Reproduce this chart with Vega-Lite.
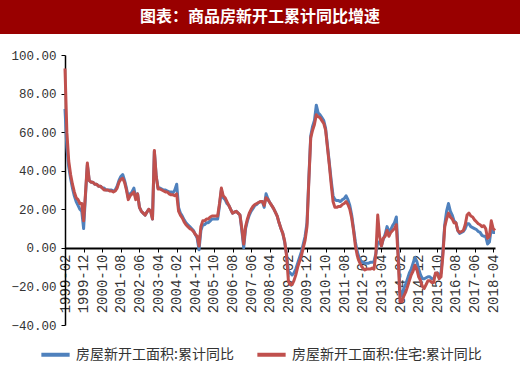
{
  "$schema": "https://vega.github.io/schema/vega-lite/v6.json",
  "padding": 0,
  "background": "white",
  "spacing": 15,
  "config": {"view": {"stroke": null}, "legend": {"layout": {"bottom": {"anchor": "middle"}}}},
  "vconcat": [
    {
      "width": 520,
      "height": 34,
      "view": {"fill": "#990000", "stroke": null},
      "data": {"values": [{"t": "图表：商品房新开工累计同比增速"}]},
      "mark": {"type": "text", "color": "white", "font": "Noto Sans CJK SC", "fontWeight": "bold", "fontSize": 16, "align": "center", "baseline": "middle"},
      "encoding": {"text": {"field": "t", "type": "nominal"}}
    },
    {
      "width": 520,
      "height": 270,
      "data": {"values": [
        {"d":"1999-02","a":72,"b":93},{"d":"1999-03","a":52,"b":60},{"d":"1999-04","a":42,"b":45},{"d":"1999-05","a":36,"b":38},{"d":"1999-06","a":31,"b":33},{"d":"1999-07","a":27,"b":29},{"d":"1999-08","a":24,"b":26},{"d":"1999-09","a":22,"b":25},{"d":"1999-10","a":20,"b":23},{"d":"1999-11","a":19,"b":23},{"d":"1999-12","a":10,"b":14},
        {"d":"2000-01","a":27,"b":28},{"d":"2000-02","a":43,"b":44},{"d":"2000-03","a":35,"b":35},{"d":"2000-04","a":34,"b":34},{"d":"2000-05","a":34,"b":34},{"d":"2000-06","a":33,"b":33},{"d":"2000-07","a":33,"b":33},{"d":"2000-08","a":32,"b":32},{"d":"2000-09","a":32,"b":32},{"d":"2000-10","a":31,"b":31},{"d":"2000-11","a":31,"b":30},{"d":"2000-12","a":30,"b":30},
        {"d":"2001-01","a":30,"b":30},{"d":"2001-02","a":30,"b":29.5},{"d":"2001-03","a":30,"b":29.5},{"d":"2001-04","a":29.5,"b":29},{"d":"2001-05","a":30,"b":29.5},{"d":"2001-06","a":32,"b":31},{"d":"2001-07","a":35,"b":34},{"d":"2001-08","a":37,"b":35.5},{"d":"2001-09","a":38,"b":36},{"d":"2001-10","a":35,"b":34},{"d":"2001-11","a":31,"b":30},{"d":"2001-12","a":26,"b":25},
        {"d":"2002-01","a":28,"b":27},{"d":"2002-02","a":29,"b":28},{"d":"2002-03","a":31,"b":29},{"d":"2002-04","a":26,"b":25},{"d":"2002-05","a":28,"b":28},{"d":"2002-06","a":21,"b":21},{"d":"2002-07","a":19,"b":19},{"d":"2002-08","a":18,"b":18},{"d":"2002-09","a":17,"b":17},{"d":"2002-10","a":18.5,"b":18.5},{"d":"2002-11","a":20,"b":20},{"d":"2002-12","a":19,"b":19},
        {"d":"2003-01","a":15,"b":15},{"d":"2003-02","a":50,"b":50.5},{"d":"2003-03","a":37,"b":37},{"d":"2003-04","a":31,"b":30.5},{"d":"2003-05","a":31,"b":30.5},{"d":"2003-06","a":30.5,"b":30},{"d":"2003-07","a":30,"b":29.5},{"d":"2003-08","a":30,"b":29},{"d":"2003-09","a":29.5,"b":29},{"d":"2003-10","a":29,"b":28},{"d":"2003-11","a":29,"b":27.5},{"d":"2003-12","a":28.5,"b":27.5},
        {"d":"2004-01","a":30,"b":27},{"d":"2004-02","a":33,"b":28},{"d":"2004-03","a":21,"b":19},{"d":"2004-04","a":18,"b":17},{"d":"2004-05","a":16.5,"b":15.5},{"d":"2004-06","a":14.5,"b":13.5},{"d":"2004-07","a":13,"b":12},{"d":"2004-08","a":12,"b":11},{"d":"2004-09","a":11,"b":10},{"d":"2004-10","a":10,"b":9.5},{"d":"2004-11","a":9,"b":8.5},{"d":"2004-12","a":7,"b":7},
        {"d":"2005-01","a":5,"b":6},{"d":"2005-02","a":-1,"b":1},{"d":"2005-03","a":9,"b":11},{"d":"2005-04","a":12,"b":14},{"d":"2005-05","a":12,"b":14},{"d":"2005-06","a":13,"b":15},{"d":"2005-07","a":13,"b":15},{"d":"2005-08","a":14,"b":16},{"d":"2005-09","a":15,"b":16.5},{"d":"2005-10","a":15,"b":16.5},{"d":"2005-11","a":15,"b":16.5},{"d":"2005-12","a":15,"b":16.5},
        {"d":"2006-01","a":22,"b":23},{"d":"2006-02","a":30,"b":31},{"d":"2006-03","a":26,"b":27},{"d":"2006-04","a":25,"b":26},{"d":"2006-05","a":23,"b":24},{"d":"2006-06","a":22,"b":22},{"d":"2006-07","a":20,"b":20},{"d":"2006-08","a":18,"b":18},{"d":"2006-09","a":18.5,"b":18.5},{"d":"2006-10","a":19,"b":19},{"d":"2006-11","a":18,"b":18},{"d":"2006-12","a":17,"b":17},
        {"d":"2007-01","a":9,"b":10},{"d":"2007-02","a":0,"b":2},{"d":"2007-03","a":10,"b":11},{"d":"2007-04","a":14,"b":15},{"d":"2007-05","a":17,"b":18},{"d":"2007-06","a":19,"b":20},{"d":"2007-07","a":20.5,"b":21.5},{"d":"2007-08","a":22,"b":22.5},{"d":"2007-09","a":22.5,"b":23},{"d":"2007-10","a":23.5,"b":23.5},{"d":"2007-11","a":24,"b":24},{"d":"2007-12","a":24,"b":24},
        {"d":"2008-01","a":21,"b":22},{"d":"2008-02","a":28,"b":26},{"d":"2008-03","a":25.5,"b":25},{"d":"2008-04","a":23.5,"b":23.5},{"d":"2008-05","a":22,"b":22},{"d":"2008-06","a":20.5,"b":20.5},{"d":"2008-07","a":18.5,"b":18.5},{"d":"2008-08","a":16.5,"b":16.5},{"d":"2008-09","a":13,"b":13},{"d":"2008-10","a":10,"b":10},{"d":"2008-11","a":7.5,"b":7.5},{"d":"2008-12","a":3,"b":3.5},
        {"d":"2009-01","a":-3,"b":-4},{"d":"2009-02","a":-12,"b":-17},{"d":"2009-03","a":-13,"b":-19},{"d":"2009-04","a":-14,"b":-19},{"d":"2009-05","a":-13,"b":-17},{"d":"2009-06","a":-11,"b":-14},{"d":"2009-07","a":-8,"b":-10},{"d":"2009-08","a":-5,"b":-7},{"d":"2009-09","a":-2,"b":-4},{"d":"2009-10","a":2,"b":0},{"d":"2009-11","a":6,"b":4},{"d":"2009-12","a":13,"b":11},
        {"d":"2010-01","a":36,"b":35},{"d":"2010-02","a":58,"b":57},{"d":"2010-03","a":63,"b":61},{"d":"2010-04","a":66,"b":64},{"d":"2010-05","a":74,"b":69},{"d":"2010-06","a":70,"b":68},{"d":"2010-07","a":69,"b":67.5},{"d":"2010-08","a":67.5,"b":66},{"d":"2010-09","a":66,"b":64.5},{"d":"2010-10","a":62,"b":61},{"d":"2010-11","a":53,"b":52},{"d":"2010-12","a":44,"b":43},
        {"d":"2011-01","a":35,"b":33},{"d":"2011-02","a":27,"b":24},{"d":"2011-03","a":25,"b":21},{"d":"2011-04","a":24.5,"b":21},{"d":"2011-05","a":24.5,"b":21.5},{"d":"2011-06","a":24,"b":21.5},{"d":"2011-07","a":25,"b":22.5},{"d":"2011-08","a":25.5,"b":23},{"d":"2011-09","a":27,"b":24},{"d":"2011-10","a":25,"b":22.5},{"d":"2011-11","a":22,"b":20},{"d":"2011-12","a":17,"b":15.5},
        {"d":"2012-01","a":10,"b":9},{"d":"2012-02","a":3,"b":1},{"d":"2012-03","a":-2,"b":-4},{"d":"2012-04","a":-5,"b":-7},{"d":"2012-05","a":-7,"b":-9},{"d":"2012-06","a":-7.5,"b":-10.5},{"d":"2012-07","a":-8,"b":-11.5},{"d":"2012-08","a":-8,"b":-11},{"d":"2012-09","a":-8,"b":-11},{"d":"2012-10","a":-7.5,"b":-11},{"d":"2012-11","a":-7.5,"b":-10.5},{"d":"2012-12","a":-7,"b":-11},
        {"d":"2013-01","a":-3,"b":-3},{"d":"2013-02","a":3,"b":17},{"d":"2013-03","a":3,"b":6},{"d":"2013-04","a":1,"b":1},{"d":"2013-05","a":4.5,"b":5},{"d":"2013-06","a":7,"b":6},{"d":"2013-07","a":11,"b":9},{"d":"2013-08","a":8.5,"b":6},{"d":"2013-09","a":9.5,"b":8},{"d":"2013-10","a":11.5,"b":9},{"d":"2013-11","a":13,"b":10},{"d":"2013-12","a":16,"b":12},
        {"d":"2014-01","a":-3,"b":-6},{"d":"2014-02","a":-22,"b":-28},{"d":"2014-03","a":-25,"b":-28},{"d":"2014-04","a":-21,"b":-25},{"d":"2014-05","a":-19,"b":-23},{"d":"2014-06","a":-16,"b":-20},{"d":"2014-07","a":-13,"b":-17},{"d":"2014-08","a":-11,"b":-14},{"d":"2014-09","a":-8,"b":-12},{"d":"2014-10","a":-5,"b":-9},{"d":"2014-11","a":-7,"b":-11},{"d":"2014-12","a":-11,"b":-15},
        {"d":"2015-01","a":-14,"b":-17},{"d":"2015-02","a":-16,"b":-20},{"d":"2015-03","a":-16,"b":-21},{"d":"2015-04","a":-15.5,"b":-19},{"d":"2015-05","a":-15,"b":-17},{"d":"2015-06","a":-15,"b":-17},{"d":"2015-07","a":-16,"b":-18},{"d":"2015-08","a":-16,"b":-18},{"d":"2015-09","a":-14,"b":-13},{"d":"2015-10","a":-13,"b":-13},{"d":"2015-11","a":-14,"b":-16},{"d":"2015-12","a":-13,"b":-15},
        {"d":"2016-01","a":-2,"b":-4},{"d":"2016-02","a":12,"b":11},{"d":"2016-03","a":19,"b":15},{"d":"2016-04","a":23,"b":18},{"d":"2016-05","a":19,"b":16},{"d":"2016-06","a":17,"b":15},{"d":"2016-07","a":14,"b":13},{"d":"2016-08","a":13,"b":13},{"d":"2016-09","a":9,"b":9},{"d":"2016-10","a":7.5,"b":8},{"d":"2016-11","a":8,"b":8.5},{"d":"2016-12","a":8.5,"b":9},
        {"d":"2017-01","a":10,"b":12},{"d":"2017-02","a":12.5,"b":17},{"d":"2017-03","a":12.5,"b":18},{"d":"2017-04","a":11,"b":16.5},{"d":"2017-05","a":10.5,"b":16},{"d":"2017-06","a":10,"b":14.5},{"d":"2017-07","a":9.5,"b":13.5},{"d":"2017-08","a":8.5,"b":12.5},{"d":"2017-09","a":8,"b":12},{"d":"2017-10","a":6.5,"b":11},{"d":"2017-11","a":6,"b":11.5},{"d":"2017-12","a":6,"b":10},
        {"d":"2018-01","a":2,"b":5},{"d":"2018-02","a":3,"b":6},{"d":"2018-03","a":10,"b":14},{"d":"2018-04","a":8,"b":10},{"d":"2018-05","a":8,"b":9}
      ]},
      "transform": [{"fold": ["a", "b"], "as": ["s", "v"]}],
      "mark": {"type": "line", "strokeWidth": 3, "strokeJoin": "round"},
      "encoding": {
        "x": {
          "field": "d", "type": "ordinal", "sort": null,
          "scale": {"type": "point", "padding": 0, "range": [65, 495]},
          "axis": {
            "title": null,
            "values": ["1999-02","1999-12","2000-10","2001-08","2002-06","2003-04","2004-02","2004-12","2005-10","2006-08","2007-06","2008-04","2009-02","2009-12","2010-10","2011-08","2012-06","2013-04","2014-02","2014-12","2015-10","2016-08","2017-06","2018-04"],
            "labelAngle": -90, "offset": -77, "domainColor": "#000000", "domainWidth": 2,
            "tickColor": "#000000", "tickSize": 4, "tickWidth": 1, "labelPadding": 2,
            "labelFont": "Liberation Mono", "labelFontSize": 14, "labelColor": "#333333",
            "grid": false
          }
        },
        "y": {
          "field": "v", "type": "quantitative",
          "scale": {"domain": [-40, 100], "nice": false, "zero": false},
          "axis": {
            "title": null, "values": [-40, -20, 0, 20, 40, 60, 80, 100], "format": ".2f",
            "offset": -65,
            "domainColor": "#000000", "domainWidth": 1.5, "tickColor": "#000000", "tickSize": 4,
            "labelFont": "Liberation Mono", "labelFontSize": 12.5, "labelColor": "#333333",
            "grid": false, "labelPadding": 5
          }
        },
        "color": {
          "field": "s", "type": "nominal",
          "scale": {"domain": ["a", "b"], "range": ["#4F81BD", "#C0504D"]},
          "legend": {
            "title": null, "orient": "bottom", "direction": "horizontal",
            "labelExpr": "datum.label == 'a' ? '房屋新开工面积:累计同比' : '房屋新开工面积:住宅:累计同比'",
            "symbolType": "stroke", "symbolSize": 800, "symbolStrokeWidth": 4,
            "labelFont": "Noto Sans CJK SC", "labelFontSize": 14, "labelColor": "#333333", "labelLimit": 300,
            "columnPadding": 15, "offset": 6
          }
        }
      }
    }
  ]
}
